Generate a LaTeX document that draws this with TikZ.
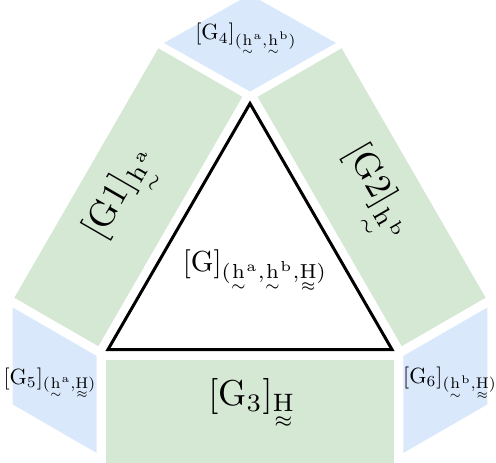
\documentclass[tikz,border=0pt]{standalone}
\usepackage{amsmath}
\definecolor{gfill}{HTML}{D5E8D4}
\definecolor{bfill}{HTML}{DAE8FC}
\newcommand{\uh}{\underset{\sim}{\mathrm{h}}}
\newcommand{\uH}{\underset{\approx}{\mathrm{H}}}
\begin{document}
\begin{tikzpicture}[x=1pt,y=-1pt,
  band/.style={fill=gfill,draw=none},
  corner/.style={fill=bfill,draw=none},
  tri/.style={fill=white,draw=black,line width=3pt,line join=miter},
  lab/.style={inner sep=0pt,text=black}]
\useasboundingbox (0,0) rectangle (496,463);
% green bands
\fill[band] (98.34,346.23) -- (242.34,96.77) -- (158.34,48.27) -- (14.34,297.73) -- cycle;
\fill[band] (401.66,346.23) -- (257.66,96.77) -- (341.66,48.27) -- (485.66,297.73) -- cycle;
\fill[band] (106,359.5) rectangle (394,470);
% blue corners
\fill[corner] (250,91.5) -- (164,43) -- (250,-5.5) -- (336,43) -- cycle;
\fill[corner] (96.74,356) -- (12.74,307.5) -- (12.74,404.5) -- (96.74,453) -- cycle;
\fill[corner] (403.26,356) -- (487.26,307.5) -- (487.26,404.5) -- (403.26,453) -- cycle;
% triangle
\coordinate (A) at (108,349.5);
\coordinate (B) at (392,349.5);
\coordinate (C) at (250,103.5);
\draw[tri] (A) -- (B) -- (C) -- cycle;
% labels
\node[lab,scale=2.9] (g) at (255,272) {$[\mathrm{G}]_{(\uh^{\mathrm{a}},\uh^{\mathrm{b}},\uH)}$};
\node[lab,scale=3.6] (g3) at (252,405) {$[\mathrm{G}_3]_{\uH}$};
\node[lab,rotate=60,scale=3.6] (g1) at (126,196) {$[\mathrm{G1}]_{\uh^{\mathrm{a}}}$};
\node[lab,rotate=-60,scale=3.6] (g2) at (371,196) {$[\mathrm{G2}]_{\uh^{\mathrm{b}}}$};
\node[lab,scale=2.2] (g4) at (246,40) {$[\mathrm{G}_4]_{(\uh^{\mathrm{a}},\uh^{\mathrm{b}})}$};
\node[lab,scale=2.2] (g5) at (50,384) {$[\mathrm{G}_5]_{(\uh^{\mathrm{a}},\uH)}$};
\node[lab,scale=2.2] (g6) at (450,384) {$[\mathrm{G}_6]_{(\uh^{\mathrm{b}},\uH)}$};
\end{tikzpicture}
\end{document}
